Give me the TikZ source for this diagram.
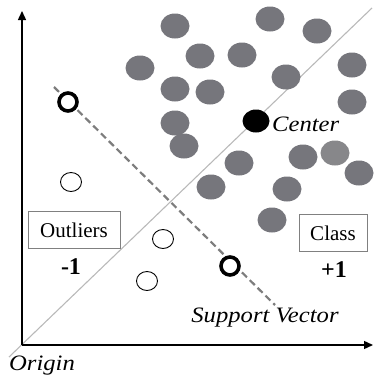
\documentclass[tikz,border=0pt]{standalone}
\usepackage{fontspec}
\setmainfont{Liberation Serif}
\newfontfamily\wideital[FakeStretch=1.12]{Liberation Serif Italic}
\usetikzlibrary{arrows.meta}
\definecolor{dotgray}{RGB}{118,118,124}
\definecolor{dotlight}{RGB}{135,135,138}
\definecolor{linegray}{RGB}{185,185,185}
\definecolor{dashgray}{RGB}{125,125,125}
\tikzset{
  cls/.style={fill=dotgray, draw=none},
  hollow/.style={draw=black, line width=0.9pt, fill=white},
  sv/.style={draw=black, line width=3.6pt, fill=white},
  lbox/.style={draw=gray, line width=0.8pt, fill=white, inner sep=2pt, font=\fontsize{21}{23}\selectfont},
  num/.style={font=\bfseries\fontsize{24}{26}\selectfont},
  itl/.style={font=\wideital\fontsize{22}{24}\selectfont},
}
\begin{document}
\begin{tikzpicture}[x=1pt,y=-1pt]
\useasboundingbox (0,0) rectangle (374,378);
% coordinates
\coordinate (O) at (22,345);
\coordinate (Ytop) at (22,11);
\coordinate (Xend) at (373,345);
\coordinate (D1) at (9,357);
\coordinate (D2) at (372,8);
\coordinate (S1) at (54,87);
\coordinate (S2) at (275,305);
% diagonal
\draw[linegray, line width=1.1pt] (D1) -- (D2);
% dashed
\draw[dashgray, line width=2.2pt, dash pattern=on 7pt off 4pt] (S1) -- (S2);
% axes
\draw[black, line width=1.4pt, -{Triangle[length=9pt,width=8pt]}] (O) -- (Ytop);
\draw[black, line width=1.4pt, -{Triangle[length=9pt,width=8pt]}] (O) -- (Xend);
% class dots
\foreach \x/\y in {175/26, 270/19, 317/31, 200/56, 242/55, 140/68, 175/89, 210/92, 286/77, 352/65, 352/102, 175/123, 184/146, 239/163, 211/187, 303/157, 359/173, 287/189, 272/220}
  \fill[cls] (\x,\y) ellipse [x radius=14.5, y radius=12.5];
\fill[dotlight] (335,153) ellipse [x radius=14.5, y radius=12.5];
% center
\fill[black] (256,121) ellipse [x radius=13.5, y radius=11.5];
\node[itl, anchor=west, inner sep=0pt] (ctext) at (272,124) {Center};
% outliers
\draw[hollow] (71,182) ellipse [x radius=10.5, y radius=9.5];
\draw[hollow] (163,239) ellipse [x radius=10.5, y radius=9.5];
\draw[hollow] (147,281) ellipse [x radius=10.5, y radius=9.5];
% support vectors
\draw[sv] (68,102) circle [radius=9];
\draw[sv] (230,266) circle [radius=9];
% labels
\node[lbox, minimum width=92pt, minimum height=37pt] (outl) at (74,230) {Outliers};
\node[num] (m1) at (71,267) {-1};
\node[lbox, minimum width=68pt, minimum height=37pt] (cls) at (333,233) {Class};
\node[num] (p1) at (334,270) {+1};
\node[itl] (svt) at (265,318) {Support Vector};
\node[itl, anchor=west, inner sep=0pt] (orig) at (9,366) {Origin};
\end{tikzpicture}
\end{document}
